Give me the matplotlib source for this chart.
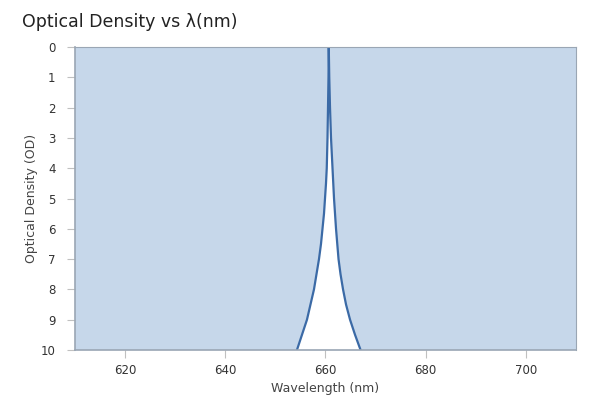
import matplotlib
matplotlib.use("Agg")
import matplotlib.pyplot as plt

# notch filter curve
wavelength = [610, 650, 652, 653.2, 654.3, 655.3, 656.3, 657.0, 657.7, 658.2, 658.7,
              659.1, 659.4, 659.7, 659.9, 660.1, 660.25, 660.4, 660.5, 660.6, 660.65,
              660.75, 660.9, 661.1, 661.25, 661.4, 661.55, 661.7, 661.9, 662.1,
              662.35, 662.6, 663.0, 663.5, 664.1, 664.9, 665.9, 667.0, 668.3, 672, 710]
od = [14, 14, 11.5, 10.6, 10, 9.5, 9, 8.5, 8, 7.5, 7,
      6.5, 6, 5.5, 5, 4.5, 4, 3, 2, 1, 0,
      1, 2, 3, 3.5, 4, 4.5, 5, 5.5, 6,
      6.5, 7, 7.5, 8, 8.5, 9, 9.5, 10, 10.6, 11.5, 14]

xticks = [620, 640, 660, 680, 700]
yticks = list(range(0, 11))

fill_col = "#c6d7ea"
line_col = "#3b6aa6"
grey = "#9aa6b4"
text_col = "#333333"

fig = plt.figure(figsize=(6, 4), dpi=100)
ax = fig.add_axes([0.125, 0.125, 0.835, 0.7575])

ax.fill_between(wavelength, 0, od, color=fill_col, lw=0)
ax.plot(wavelength, od, color=line_col, lw=1.6)

ax.set_xlim(610, 710)
ax.set_ylim(10, 0)
ax.set_xticks(xticks)
ax.set_yticks(yticks)

for s in ax.spines.values():
    s.set_color(grey)
    s.set_linewidth(0.8)
ax.spines["left"].set_linewidth(1.2)
ax.spines["bottom"].set_linewidth(1.2)

ax.tick_params(axis="both", colors="#c0c0c0", labelcolor=text_col, labelsize=8.5, length=6, width=0.8)
ax.tick_params(axis="y", pad=8)
ax.tick_params(axis="x", pad=4)

ax.set_xlabel("Wavelength (nm)", fontsize=9, color="#444444", labelpad=4)
ax.set_ylabel("Optical Density (OD)", fontsize=9, color="#444444", labelpad=2)

fig.text(0.037, 0.945, "Optical Density vs λ(nm)", fontsize=12.5, color="#222222", va="center", ha="left")

fig.savefig("out.png", dpi=100)
